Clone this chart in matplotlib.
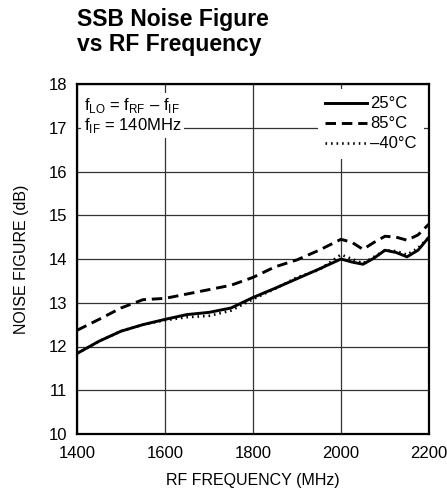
import matplotlib
matplotlib.use("Agg")
import matplotlib.pyplot as plt

FONT = ['Liberation Sans', 'DejaVu Sans']
plt.rcParams['font.family'] = FONT
plt.rcParams['mathtext.fontset'] = 'custom'
plt.rcParams['mathtext.rm'] = 'Liberation Sans'

freq = [1400, 1450, 1500, 1550, 1600, 1650, 1700, 1750, 1800, 1850, 1900,
        1950, 2000, 2025, 2050, 2075, 2100, 2125, 2150, 2175, 2200]
nf_25 = [11.84, 12.12, 12.35, 12.50, 12.62, 12.73, 12.78, 12.88, 13.12, 13.33, 13.55,
         13.77, 14.00, 13.93, 13.88, 14.02, 14.20, 14.15, 14.05, 14.20, 14.50]
nf_85 = [12.37, 12.62, 12.88, 13.07, 13.10, 13.20, 13.30, 13.40, 13.58, 13.82, 13.98,
         14.20, 14.45, 14.38, 14.22, 14.38, 14.52, 14.50, 14.43, 14.55, 14.80]
nf_m40 = [11.84, 12.12, 12.35, 12.50, 12.60, 12.67, 12.70, 12.82, 13.08, 13.32, 13.58,
          13.75, 14.10, 14.00, 13.90, 14.05, 14.20, 14.18, 14.10, 14.25, 14.50]
labels = ['25°C', '85°C', '–40°C']
xticks = [1400, 1600, 1800, 2000, 2200]
yticks = list(range(10, 19))

fig = plt.figure(figsize=(4.47, 4.93), dpi=100)
ax = fig.add_axes([77/447, 59/493, 352/447, 350/493])

ax.plot(freq, nf_25, color='black', lw=2.1, ls='-', label=labels[0], zorder=3)
ax.plot(freq, nf_85, color='black', lw=2.1, ls=(0, (3.6, 2.0)), label=labels[1], zorder=3)
ax.plot(freq, nf_m40, color='black', lw=1.9, ls=(0, (0.6, 1.5)), label=labels[2], zorder=3)

ax.set_xlim(1400, 2200)
ax.set_ylim(10, 18)
ax.set_xticks(xticks)
ax.set_yticks(yticks)
ax.grid(True, color='#333333', lw=0.9)
ax.set_axisbelow(True)
for s in ax.spines.values():
    s.set_linewidth(1.6)
ax.tick_params(length=0, labelsize=12)
ax.tick_params(axis='x', pad=9)
ax.tick_params(axis='y', pad=7)
ax.set_xlabel('RF FREQUENCY (MHz)', fontsize=11.5, labelpad=8)
ax.set_ylabel('NOISE FIGURE (dB)', fontsize=11.5, labelpad=14)

ax.text(0.02, 0.965, 'f$_{\\mathrm{LO}}$ = f$_{\\mathrm{RF}}$ – f$_{\\mathrm{IF}}$\nf$_{\\mathrm{IF}}$ = 140MHz',
        transform=ax.transAxes, ha='left', va='top', fontsize=12, linespacing=1.05,
        bbox=dict(facecolor='white', edgecolor='none', pad=2), zorder=4)

leg = ax.legend(loc='upper right', fontsize=12, frameon=True, handlelength=2.5,
                handletextpad=0.2, labelspacing=0.3, borderaxespad=0.3, borderpad=0.45,
                fancybox=False)
leg.get_frame().set_edgecolor('none')
leg.get_frame().set_facecolor('white')
leg.get_frame().set_alpha(1)

fig.text(77/447, 1 - 8/493, 'SSB Noise Figure\nvs RF Frequency', ha='left', va='top',
         fontsize=16.5, fontweight='bold', linespacing=1.12)

fig.savefig('out.png', dpi=100)
